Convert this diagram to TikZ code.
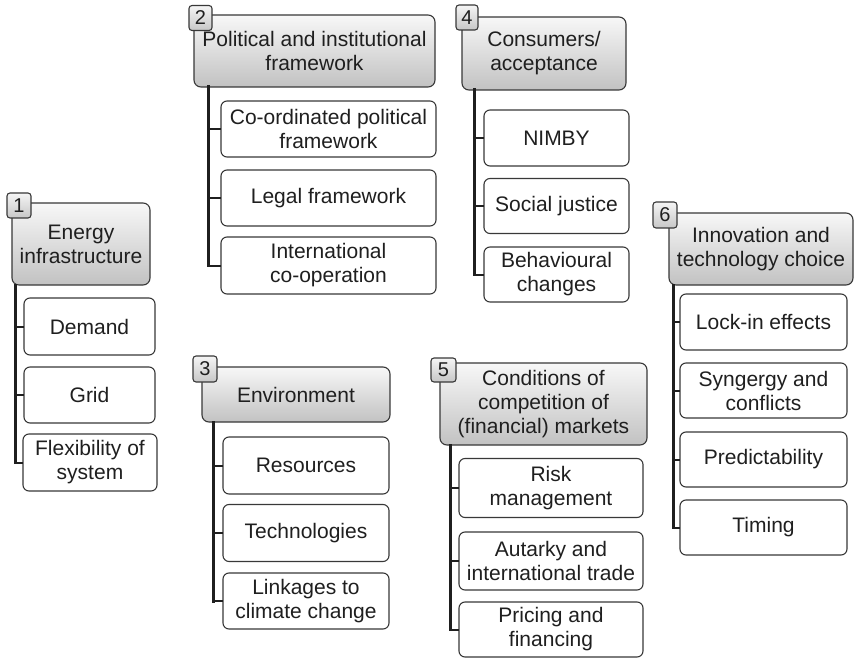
\documentclass[tikz,border=0pt]{standalone}
\usepackage{fontspec}
\setmainfont{Liberation Sans}
\begin{document}
\begin{tikzpicture}[x=1pt,y=-1pt,
  every node/.style={inner sep=0pt, outer sep=0pt, text=black!88},
  lbl/.style={font=\fontsize{21}{24}\selectfont, align=center},
  hdr/.style={lbl, draw=black!78, line width=1.1pt, rounded corners=7pt,
    top color=black!3, bottom color=black!24},
  item/.style={lbl, draw=black!78, line width=1.1pt, rounded corners=6pt, fill=white},
  tagbox/.style={draw=black!78, line width=1.1pt, rounded corners=3pt,
    top color=black!4, bottom color=black!22,
    font=\fontsize{20}{22}\selectfont},
  trunk/.style={draw=black!88, line width=3pt, line cap=rect},
  branch/.style={draw=black!88, line width=2pt}]
\useasboundingbox[fill=white] (0,0) rectangle (855,658);

% ---- 1: energy infrastructure
\node[hdr, minimum width=138, minimum height=82] (h1) at (81,244) {Energy\\infrastructure};
\node[item, minimum width=131, minimum height=57] (c11) at (89.5,326.5) {Demand};
\node[item, minimum width=131, minimum height=56] (c12) at (89.5,395) {Grid};
\node[item, minimum width=134, minimum height=57] (c13) at (90,462.5) {Flexibility of\\system};
\coordinate (r1) at (15,0);

% ---- 2: political and institutional framework
\node[hdr, minimum width=241, minimum height=72] (h2) at (314.5,51) {Political and institutional\\framework};
\node[item, minimum width=215, minimum height=56] (c21) at (328.5,129) {Co-ordinated political\\framework};
\node[item, minimum width=215, minimum height=56] (c22) at (328.5,198) {Legal framework};
\node[item, minimum width=215, minimum height=57] (c23) at (328.5,265.5) {International\\co-operation};
\coordinate (r2) at (208,0);

% ---- 3: environment
\node[hdr, minimum width=188, minimum height=55] (h3) at (296,394.5) {Environment};
\node[item, minimum width=166, minimum height=57] (c31) at (306,465.5) {Resources};
\node[item, minimum width=166, minimum height=57] (c32) at (306,533) {Technologies};
\node[item, minimum width=166, minimum height=56] (c33) at (306,601) {Linkages to\\climate change};
\coordinate (r3) at (213,0);

% ---- 4: consumers / acceptance
\node[hdr, minimum width=164, minimum height=73] (h4) at (544,53.5) {Consumers/\\acceptance};
\node[item, minimum width=145, minimum height=56] (c41) at (556.5,138) {NIMBY};
\node[item, minimum width=145, minimum height=55] (c42) at (556.5,206) {Social justice};
\node[item, minimum width=145, minimum height=55] (c43) at (556.5,274.5) {Behavioural\\changes};
\coordinate (r4) at (474,0);

% ---- 5: conditions of competition
\node[hdr, minimum width=207, minimum height=82] (h5) at (543.5,404) {Conditions of\\competition of\\(financial) markets};
\node[item, minimum width=184, minimum height=59] (c51) at (551,488) {Risk\\management};
\node[item, minimum width=184, minimum height=58] (c52) at (551,561) {Autarky and\\international trade};
\node[item, minimum width=184, minimum height=55] (c53) at (551,629.5) {Pricing and\\financing};
\coordinate (r5) at (450,0);

% ---- 6: innovation and technology choice
\node[hdr, minimum width=184, minimum height=72] (h6) at (761,249) {Innovation and\\technology choice};
\node[item, minimum width=167, minimum height=56] (c61) at (763.5,322) {Lock-in effects};
\node[item, minimum width=167, minimum height=55] (c62) at (763.5,390.5) {Syngergy and\\conflicts};
\node[item, minimum width=167, minimum height=55] (c63) at (763.5,459.5) {Predictability};
\node[item, minimum width=167, minimum height=55] (c64) at (763.5,527.5) {Timing};
\coordinate (r6) at (673,0);

% ---- connectors: one trunk per group, a branch to every item
\foreach \g/\last/\items in {1/c13/{c11,c12,c13}, 2/c23/{c21,c22,c23},
    3/c33/{c31,c32,c33}, 4/c43/{c41,c42,c43}, 5/c53/{c51,c52,c53},
    6/c64/{c61,c62,c63,c64}} {
  \draw[trunk] (r\g |- h\g.south) -- (r\g |- \last.west);
  \foreach \c in \items { \draw[branch] (r\g |- \c.west) -- (\c.west); }
}

% ---- number tags
\node[tagbox, minimum width=24, minimum height=25] (t1) at (19,205.5) {1};
\node[tagbox, minimum width=23, minimum height=25] (t2) at (200.5,18) {2};
\node[tagbox, minimum width=24, minimum height=26] (t3) at (205,369) {3};
\node[tagbox, minimum width=22, minimum height=25] (t4) at (467,17.5) {4};
\node[tagbox, minimum width=25, minimum height=24] (t5) at (443.5,370) {5};
\node[tagbox, minimum width=24, minimum height=26] (t6) at (665,215) {6};
\end{tikzpicture}
\end{document}
